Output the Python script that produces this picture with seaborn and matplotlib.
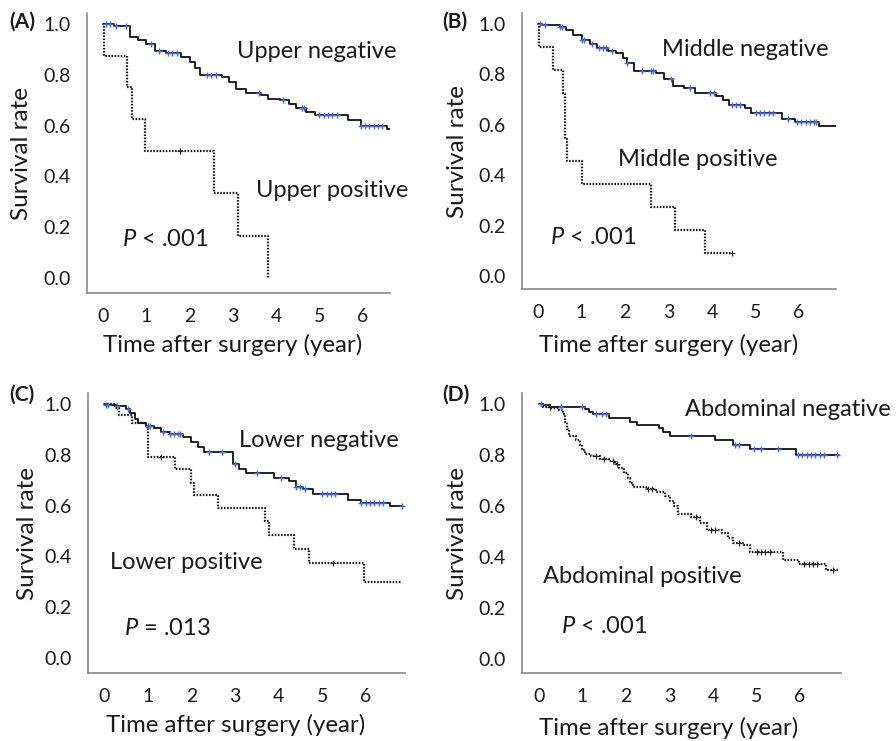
import numpy as np
import pandas as pd
import seaborn as sns
from matplotlib import pyplot as plt

sns.set_style('white')
plt.rcParams['font.family'] = ['Lato', 'DejaVu Sans']
plt.rcParams['mathtext.fontset'] = 'custom'
plt.rcParams['mathtext.it'] = 'Lato:italic'
plt.rcParams['mathtext.rm'] = 'Lato'

TXT = '#1a1a1a'
AXC = '#8a8a8a'
BLUE = '#4a68d6'

# ---- (A) upper ----
a_neg_t = [0, 0.25, 0.62, 0.8, 1.0, 1.2, 1.45, 1.8, 2.0, 2.12, 2.25, 2.75, 2.92, 3.08, 3.3,
           3.65, 3.8, 4.1, 4.3, 4.45, 4.7, 4.9, 5.65, 5.95, 6.55]
a_neg_s = [1.0, 0.99, 0.95, 0.935, 0.92, 0.895, 0.885, 0.87, 0.85, 0.825, 0.80, 0.79, 0.77, 0.745, 0.73,
           0.72, 0.705, 0.70, 0.685, 0.67, 0.655, 0.64, 0.62, 0.60, 0.585]
a_neg_end = 6.62
a_neg_cens = [0.08, 0.15, 0.3, 0.52, 1.1, 1.3, 1.5, 1.6, 1.7, 2.4, 2.5, 2.6, 3.6, 4.15, 4.6, 4.65,
              5.0, 5.1, 5.2, 5.3, 5.4, 5.95, 6.05, 6.15, 6.25, 6.35, 6.45]
a_pos_t = [0, 0.02, 0.55, 0.68, 0.98, 2.56, 3.12, 3.82]
a_pos_s = [1.0, 0.875, 0.75, 0.625, 0.5, 0.333, 0.167, 0.0]
a_pos_end = 3.82
a_pos_cens = [1.77]

# ---- (B) middle ----
b_neg_t = [0, 0.1, 0.5, 0.65, 0.8, 1.0, 1.2, 1.35, 1.6, 1.8, 1.95, 2.05, 2.2, 2.7, 2.9, 3.1, 3.35,
           3.6, 4.1, 4.25, 4.4, 4.75, 4.9, 5.6, 5.9, 6.45]
b_neg_s = [1.0, 0.995, 0.99, 0.975, 0.955, 0.935, 0.92, 0.905, 0.895, 0.885, 0.865, 0.845, 0.815,
           0.805, 0.78, 0.755, 0.745, 0.725, 0.715, 0.70, 0.68, 0.665, 0.645, 0.625, 0.61, 0.595]
b_neg_end = 6.85
b_neg_cens = [0.05, 0.15, 0.5, 0.55, 1.0, 1.05, 1.25, 1.4, 1.5, 1.55, 1.7, 2.05, 2.4, 2.6, 2.65,
              3.05, 3.5, 3.95, 4.05, 4.45, 4.55, 4.65, 5.0, 5.1, 5.2, 5.3, 5.4, 5.75, 5.95, 6.05,
              6.15, 6.25, 6.35, 6.4]
b_pos_t = [0, 0.02, 0.35, 0.58, 0.62, 0.66, 1.0, 2.6, 3.15, 3.83]
b_pos_s = [1.0, 0.909, 0.818, 0.727, 0.545, 0.455, 0.364, 0.273, 0.182, 0.091]
b_pos_end = 4.45
b_pos_cens = [4.45]

# ---- (C) lower ----
c_neg_t = [0, 0.05, 0.3, 0.5, 0.6, 0.7, 0.78, 0.95, 1.15, 1.3, 1.5, 1.8, 2.0, 2.15, 2.3, 2.95,
           3.1, 3.25, 3.9, 4.25, 4.4, 4.55, 4.8, 5.6, 5.9, 6.55]
c_neg_s = [1.0, 0.995, 0.99, 0.98, 0.965, 0.94, 0.925, 0.915, 0.905, 0.89, 0.88, 0.87, 0.85, 0.83,
           0.81, 0.765, 0.745, 0.73, 0.71, 0.695, 0.675, 0.665, 0.647, 0.623, 0.61, 0.597]
c_neg_end = 6.82
c_neg_cens = [0.05, 0.1, 0.3, 0.55, 1.0, 1.05, 1.35, 1.5, 1.6, 1.7, 1.75, 2.4, 2.7, 3.0, 3.5,
              4.05, 4.4, 4.5, 4.6, 5.0, 5.1, 5.2, 5.3, 5.9, 6.0, 6.1, 6.2, 6.3, 6.4, 6.82]
c_pos_t = [0, 0.25, 0.35, 0.65, 0.95, 1.0, 1.62, 2.0, 2.05, 2.6, 3.7, 3.78, 4.35, 4.7, 5.95]
c_pos_s = [1.0, 0.985, 0.957, 0.925, 0.91, 0.79, 0.745, 0.69, 0.64, 0.59, 0.54, 0.485, 0.43,
           0.375, 0.30]
c_pos_end = 6.82
c_pos_cens = [1.3, 5.25]

# ---- (D) abdominal ----
d_neg_t = [0, 0.1, 0.25, 1.05, 1.15, 1.25, 1.6, 2.1, 2.25, 2.75, 2.85, 3.0, 4.05, 4.45, 4.85, 5.9]
d_neg_s = [1.0, 0.995, 0.988, 0.98, 0.97, 0.96, 0.945, 0.93, 0.919, 0.905, 0.89, 0.873, 0.857,
           0.84, 0.823, 0.80]
d_neg_end = 6.9
d_neg_cens = [0.05, 0.5, 1.0, 1.3, 1.45, 1.55, 3.5, 4.5, 4.6, 4.95, 5.1, 5.5, 5.95, 6.05, 6.15,
              6.25, 6.35, 6.45, 6.55, 6.85]
d_pos_t = [0, 0.1, 0.3, 0.45, 0.55, 0.6, 0.65, 0.7, 0.85, 0.95, 1.0, 1.05, 1.2, 1.4, 1.6, 1.75,
           1.85, 1.95, 2.05, 2.1, 2.15, 2.45, 2.7, 2.9, 3.0, 3.1, 3.2, 3.5, 3.7, 3.85, 4.2, 4.35,
           4.45, 4.7, 4.85, 5.6, 5.97, 6.6]
d_pos_s = [1.0, 0.99, 0.985, 0.975, 0.96, 0.93, 0.9, 0.875, 0.86, 0.84, 0.82, 0.805, 0.795, 0.785,
           0.775, 0.765, 0.75, 0.73, 0.71, 0.69, 0.675, 0.665, 0.655, 0.64, 0.62, 0.60, 0.57,
           0.555, 0.535, 0.506, 0.495, 0.475, 0.455, 0.445, 0.421, 0.388, 0.372, 0.349]
d_pos_end = 6.9
d_pos_cens = [0.25, 1.3, 1.5, 1.7, 1.8, 2.5, 2.6, 3.6, 3.95, 4.05, 4.6, 5.0, 5.1, 5.2, 5.3,
              6.1, 6.2, 6.3, 6.4, 6.75]

panels = [
    dict(tag='(A)', rect=[87, 13, 390, 293], xlim=(-0.37, 6.63), ylim=(-0.059, 1.043),
         neg=(a_neg_t, a_neg_s, a_neg_end, a_neg_cens), pos=(a_pos_t, a_pos_s, a_pos_end, a_pos_cens),
         labels=[('Upper negative', 3.09, 0.89), ('Upper positive', 3.53, 0.346)],
         p=(r'$P$ < .001', 0.43, 0.153), tagpos=(9, 22), ylab_x=-0.18, xlab=(0.48, -0.146)),
    dict(tag='(B)', rect=[522, 13, 836, 289], xlim=(-0.37, 6.85), ylim=(-0.052, 1.044),
         neg=(b_neg_t, b_neg_s, b_neg_end, b_neg_cens), pos=(b_pos_t, b_pos_s, b_pos_end, b_pos_cens),
         labels=[('Middle negative', 2.84, 0.898), ('Middle positive', 1.84, 0.464)],
         p=(r'$P$ < .001', 0.27, 0.154), tagpos=(442, 22), ylab_x=-0.172, xlab=(0.468, -0.163)),
    dict(tag='(C)', rect=[88, 393, 405, 673], xlim=(-0.37, 6.9), ylim=(-0.059, 1.043),
         neg=(c_neg_t, c_neg_s, c_neg_end, c_neg_cens), pos=(c_pos_t, c_pos_s, c_pos_end, c_pos_cens),
         labels=[('Lower negative', 3.09, 0.856), ('Lower positive', 0.13, 0.377)],
         p=(r'$P$ = .013', 0.45, 0.118), tagpos=(9, 395), ylab_x=-0.158, xlab=(0.467, -0.146)),
    dict(tag='(D)', rect=[522, 393, 841, 673], xlim=(-0.39, 6.94), ylim=(-0.055, 1.043),
         neg=(d_neg_t, d_neg_s, d_neg_end, d_neg_cens), pos=(d_pos_t, d_pos_s, d_pos_end, d_pos_cens),
         labels=[('Abdominal negative', 3.35, 0.98), ('Abdominal positive', 0.085, 0.322)],
         p=(r'$P$ < .001', 0.5, 0.126), tagpos=(442, 395), ylab_x=-0.169, xlab=(0.461, -0.157)),
]

W, H = 896, 741
fig = plt.figure(figsize=(W / 100, H / 100), dpi=100)


def km_frame(t, s, end):
    return pd.DataFrame({'time': list(t) + [end], 'surv': list(s) + [s[-1]]})


def at_times(t, s, cens):
    idx = np.searchsorted(np.asarray(t), np.asarray(cens), side='right') - 1
    return np.asarray(s)[idx]


for p in panels:
    l, top, r, b = p['rect']
    ax = fig.add_axes([l / W, 1 - b / H, (r - l) / W, (b - top) / H])

    t, s, end, cens = p['neg']
    sns.lineplot(data=km_frame(t, s, end), x='time', y='surv', estimator=None, sort=False,
                 drawstyle='steps-post', color='#111111', lw=1.3, ax=ax)
    sns.scatterplot(x=cens, y=at_times(t, s, cens), marker='+', s=16, color=BLUE,
                    linewidth=1.0, ax=ax, zorder=3)

    t, s, end, cens = p['pos']
    sns.lineplot(data=km_frame(t, s, end), x='time', y='surv', estimator=None, sort=False,
                 drawstyle='steps-post', color='#111111', lw=1.6, linestyle=(0, (0.7, 0.7)), ax=ax)
    sns.scatterplot(x=cens, y=at_times(t, s, cens), marker='+', s=14, color='#222222',
                    linewidth=0.8, ax=ax, zorder=3)

    ax.set_xlim(*p['xlim'])
    ax.set_ylim(*p['ylim'])
    ax.set_xticks(range(7))
    ax.set_yticks([0, 0.2, 0.4, 0.6, 0.8, 1.0])
    ax.set_yticklabels(['0.0', '0.2', '0.4', '0.6', '0.8', '1.0'])
    ax.tick_params(axis='both', direction='out', length=4, width=1.1, color=AXC,
                   labelsize=14, labelcolor=TXT)
    ax.tick_params(axis='x', pad=7)
    ax.tick_params(axis='y', pad=8)
    sns.despine(ax=ax)
    for side in ['left', 'bottom']:
        ax.spines[side].set_color(AXC)
        ax.spines[side].set_linewidth(1.2)

    ax.set_xlabel('Time after surgery (year)', fontsize=17.3, color=TXT)
    ax.set_ylabel('Survival rate', fontsize=17.5, color=TXT)
    ax.xaxis.set_label_coords(*p['xlab'])
    ax.yaxis.set_label_coords(p['ylab_x'], 0.5)

    for txt, x, y in p['labels']:
        ax.text(x, y, txt, fontsize=17, color=TXT, ha='left', va='center', clip_on=False)
    txt, x, y = p['p']
    ax.text(x, y, txt, fontsize=17, color=TXT, ha='left', va='center')

    fig.text(p['tagpos'][0] / W, 1 - p['tagpos'][1] / H, p['tag'], fontsize=15,
             fontweight='bold', color=TXT, ha='left', va='center')

fig.savefig('out.png', dpi=100)
